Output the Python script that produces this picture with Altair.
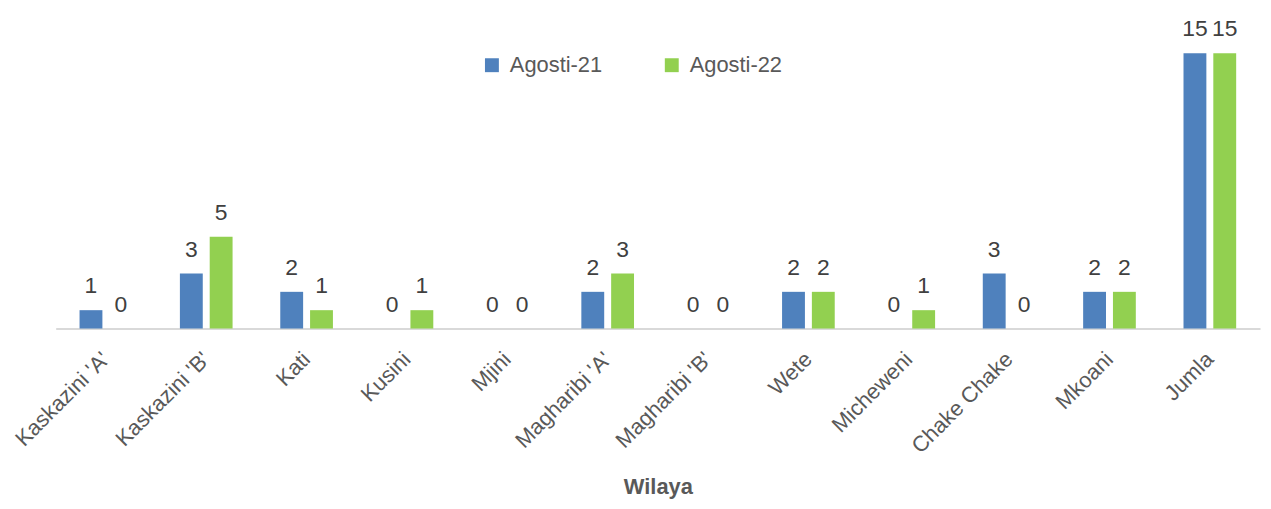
import altair as alt
import pandas as pd

categories = ["Kaskazini 'A'", "Kaskazini 'B'", "Kati", "Kusini", "Mjini",
              "Magharibi 'A'", "Magharibi 'B'", "Wete", "Micheweni",
              "Chake Chake", "Mkoani", "Jumla"]
series_names = ["Agosti-21", "Agosti-22"]
agosti21 = [1, 3, 2, 0, 0, 2, 0, 2, 0, 3, 2, 15]
agosti22 = [0, 5, 1, 1, 0, 3, 0, 2, 1, 0, 2, 15]
colors = ["#4F81BD", "#92D050"]

rows = []
for c, a, b in zip(categories, agosti21, agosti22):
    rows.append({"Wilaya": c, "Series": series_names[0], "Value": a})
    rows.append({"Wilaya": c, "Series": series_names[1], "Value": b})
df = pd.DataFrame(rows)

FONT = "Liberation Sans, Arial"

base = alt.Chart(df).encode(
    x=alt.X("Wilaya:N", sort=categories,
            scale=alt.Scale(paddingInner=0, paddingOuter=0),
            axis=alt.Axis(title="Wilaya", labelAngle=-45, labelAlign="right",
                          labelBaseline="middle", labelFont=FONT, labelFontSize=22,
                          labelColor="#595959", labelPadding=27, ticks=False,
                          domainColor="#D9D9D9", domainWidth=2,
                          titleFont=FONT, titleFontSize=22, titleFontWeight="bold",
                          titleColor="#595959", titleY=166, titleBaseline="alphabetic")),
    xOffset=alt.XOffset("Series:N", sort=series_names,
                        scale=alt.Scale(paddingInner=0.233, paddingOuter=0.8)),
    y=alt.Y("Value:Q", scale=alt.Scale(domain=[0, 15], nice=False), axis=None),
)

bars = base.mark_bar().encode(
    color=alt.Color("Series:N", sort=series_names,
                    scale=alt.Scale(domain=series_names, range=colors),
                    legend=alt.Legend(title=None, orient="none", direction="horizontal",
                                      legendX=428, legendY=1, symbolType="square",
                                      symbolSize=196, symbolStrokeWidth=0,
                                      labelFont=FONT, labelFontSize=22,
                                      labelColor="#595959", labelOffset=7,
                                      columnPadding=59))
)

labels = base.mark_text(font=FONT, fontSize=23, color="#404040",
                        baseline="alphabetic", dy=-17).encode(
    text=alt.Text("Value:Q")
)

chart = alt.layer(bars, labels).properties(
    width=1212, height=277,
    autosize=alt.AutoSizeParams(type="none"),
    padding={"left": 48, "top": 44, "right": 3, "bottom": 172},
).configure_view(stroke=None)

chart.save("out.html", embed_options={"renderer": "svg", "actions": False})
